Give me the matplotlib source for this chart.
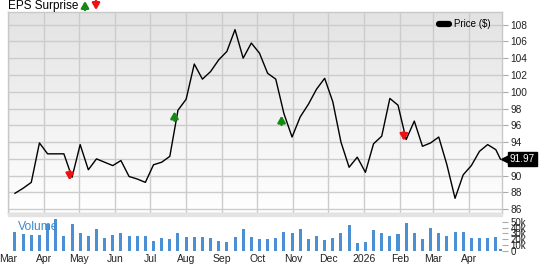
import numpy as np
import pandas as pd
import matplotlib
matplotlib.use("Agg")
import matplotlib.pyplot as plt
import matplotlib.dates as mdates
from matplotlib.transforms import ScaledTranslation
from matplotlib.lines import Line2D
from matplotlib.colors import LinearSegmentedColormap

plt.rcParams['font.family'] = ['Liberation Sans', 'DejaVu Sans']

# weekly closes, last point is the latest price
dates = list(pd.date_range('2025-03-07', periods=60, freq='7D')) + [pd.Timestamp('2026-04-28')]
price = [87.9, 88.5, 89.2, 93.9, 92.6, 92.6, 92.6, 89.8, 93.7, 90.7,
         92.0, 91.6, 91.2, 91.8, 89.9, 89.6, 89.2, 91.3, 91.6, 92.3,
         97.8, 99.1, 103.3, 101.5, 102.4, 103.8, 104.8, 107.4, 104.0, 105.8,
         104.6, 102.2, 101.5, 97.4, 94.6, 97.0, 98.5, 100.3, 101.6, 98.8,
         94.0, 91.0, 92.2, 90.4, 93.8, 94.7, 99.2, 98.4, 94.3, 96.5,
         93.5, 93.9, 94.6, 91.3, 87.3, 90.1, 91.2, 92.9, 93.7, 93.1,
         91.97]
# weekly volume in thousands
volume = [33, 29, 28, 28, 46, 54, 26, 46, 31, 26,
          38, 22, 28, 31, 26, 26, 26, 18, 22, 21,
          31, 24, 24, 24, 22, 18, 15, 24, 37, 24,
          20.5, 21, 22, 33, 30, 37, 21, 26, 19, 23,
          30, 44, 14, 16, 36, 31, 26, 29, 47, 31,
          20, 39, 31, 26, 33, 32, 23, 22, 22, 24,
          4.5]

# EPS surprise markers: date, price level, beat/miss
eps_dates = ['2025-04-23', '2025-07-22', '2025-10-22', '2026-02-04']
eps_price = [90.0, 97.1, 96.6, 94.7]
eps_beat = [False, True, True, False]

price_ticks = list(range(86, 109, 2))
vol_ticks = [0, 10, 20, 30, 40, 50]
vol_labels = ['0', '10k', '20k', '30k', '40k', '50k']
last_price = 91.97

GREEN, RED = '#138a13', '#ee1111'
ARROW = dict(arrowstyle='-|>,head_width=0.22,head_length=0.38', lw=1.8,
             shrinkA=0, shrinkB=0, mutation_scale=10)

W, H = 541, 264
fig = plt.figure(figsize=(W / 100, H / 100), dpi=100)

rect_p = [8 / W, 51 / H, 494 / W, 201 / H]
rect_v = [8 / W, 12.3 / H, 494 / W, 35.7 / H]

# gradient background behind price panel
bg = fig.add_axes(rect_p, zorder=-1)
cmap = LinearSegmentedColormap.from_list('g', ['#e3e3e3', '#ffffff'])
bg.imshow(np.linspace(0, 1, 256)[:, None], aspect='auto', cmap=cmap, extent=[0, 1, 0, 1])
bg.set_axis_off()

# band between the panels
fig.patches.append(plt.Rectangle((8 / W, 48 / H), 494 / W, 3 / H, transform=fig.transFigure,
                                 color='#e3e3e3', zorder=0))

ax = fig.add_axes(rect_p)
ax.set_facecolor('none')
vax = fig.add_axes(rect_v, sharex=ax)
vax.set_facecolor('none')

xmin, xmax = pd.Timestamp('2025-03-01'), pd.Timestamp('2026-04-29 08:00')

ax.plot(dates, price, color='black', lw=1.0, zorder=3)
ax.set_xlim(xmin, xmax)
ax.set_ylim(85.55, 109.5)

for d, p, up in zip(eps_dates, eps_price, eps_beat):
    d = pd.Timestamp(d)
    tip, tail = (p + 0.55, p - 0.55) if up else (p - 0.55, p + 0.55)
    ax.annotate('', xy=(d, tip), xytext=(d, tail),
                arrowprops=dict(ARROW, color=GREEN if up else RED), zorder=4)

ax.yaxis.tick_right()
ax.set_yticks(price_ticks)
ax.tick_params(axis='y', length=4, width=0.8, color='#aaaaaa', pad=2, labelsize=7.3,
               labelcolor='#222222')
ax.tick_params(axis='x', length=0, labelbottom=False)
ax.xaxis.set_major_locator(mdates.MonthLocator())
ax.grid(True, color='#cccccc', lw=1.0)
for s in ax.spines.values():
    s.set_color('#c8c8c8')
    s.set_linewidth(1.0)

ax.legend([Line2D([], [], color='black', lw=4.5, solid_capstyle='round')], ['Price ($)'],
          loc='upper right', bbox_to_anchor=(0.976, 0.965), frameon=False, fontsize=7,
          handlelength=1.0, handletextpad=0.5, borderpad=0, borderaxespad=0)

# latest price tag
ytr = ax.get_yaxis_transform()
ax.plot([1.0], [last_price], marker='<', ms=6, color='black', clip_on=False,
        transform=ytr + ScaledTranslation(3 / 100, 0, fig.dpi_scale_trans), zorder=5)
ax.text(1.0, last_price, '%.2f' % last_price, color='white', fontsize=7.2, va='center', ha='left',
        transform=ytr + ScaledTranslation(8 / 100, 0, fig.dpi_scale_trans), clip_on=False,
        bbox=dict(boxstyle='square,pad=0.2', fc='black', ec='black'), zorder=5)

# volume
vax.bar(dates, volume, width=2.6, color='#4a90d2', zorder=2)
vax.set_ylim(-0.8, 59.5)
vax.yaxis.tick_right()
vax.set_yticks(vol_ticks)
vax.set_yticklabels(vol_labels)
vax.tick_params(axis='y', length=4, width=0.8, color='#aaaaaa', pad=2, labelsize=7,
                labelcolor='#222222')
for s in vax.spines.values():
    s.set_visible(False)

vax.xaxis.set_major_locator(mdates.MonthLocator())
vax.xaxis.set_major_formatter(plt.FuncFormatter(
    lambda v, pos: mdates.num2date(v).strftime('%Y' if mdates.num2date(v).month == 1 else '%b')))
vax.tick_params(axis='x', length=0, pad=2, labelsize=7.5, labelcolor='#222222')
vax.set_xlim(xmin, xmax)

vax.text(10 / 494, 0.7, 'Volume', transform=vax.transAxes, color='#3d8bd0', fontsize=8.7,
         va='center', ha='left')

# title with surprise arrows
fig.text(8 / W, 1 - 6 / H, 'EPS Surprise', fontsize=8.5, va='center', ha='left')
ax.annotate('', xy=(85, 263), xytext=(85, 254), xycoords='figure pixels',
            arrowprops=dict(ARROW, color=GREEN), annotation_clip=False)
ax.annotate('', xy=(96, 254), xytext=(96, 263), xycoords='figure pixels',
            arrowprops=dict(ARROW, color=RED), annotation_clip=False)

fig.savefig('out.png', dpi=100)
